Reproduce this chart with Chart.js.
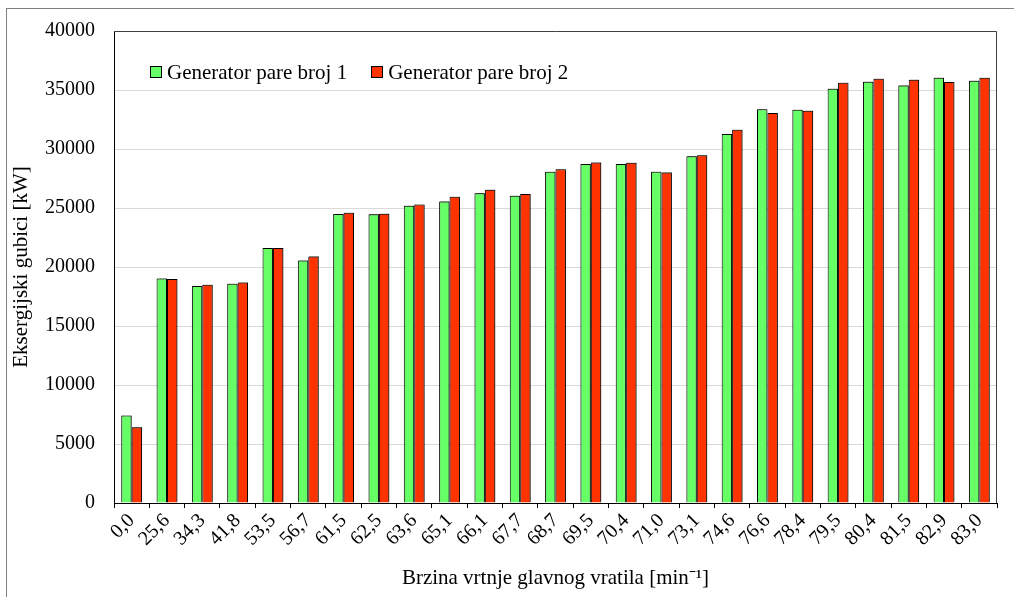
<!DOCTYPE html>
<html>
<head>
<meta charset="utf-8">
<script src="https://cdn.jsdelivr.net/npm/chart.js@4"></script>
<style>
  html, body { margin: 0; padding: 0; background: #fff; overflow: hidden; }
  #wrap { position: relative; width: 1014px; height: 597px; }
  #frame { position: absolute; left: 6px; top: 8px; width: 1100px; height: 700px; border-left: 1px solid #808080; border-top: 1px solid #808080; pointer-events: none; }
  canvas { position: absolute; left: 0; top: 0; }
  #legend { position: absolute; left: 150px; top: 59px; font-family: "Liberation Serif", "Times New Roman", serif; font-size: 21px; color: #000; white-space: nowrap; }
  #legend span.item { display: inline-flex; align-items: center; margin-right: 24px; }
  #legend span.sw { display: inline-block; width: 10px; height: 10px; border: 1px solid #000; margin-right: 5px; }
</style>
</head>
<body>
<div id="wrap">
  <canvas id="c" width="1014" height="597"></canvas>
  <div id="frame"></div>
  <div id="legend"></div>
</div>
<script>
const categories = ['0,0','25,6','34,3','41,8','53,5','56,7','61,5','62,5','63,6','65,1','66,1','67,7','68,7','69,5','70,4','71,0','73,1','74,6','76,6','78,4','79,5','80,4','81,5','82,9','83,0'];
const seriesNames = ['Generator pare broj 1', 'Generator pare broj 2'];
const generator1 = [7410,19030,18390,18580,21620,20550,24490,24470,25200,25560,26240,26040,28070,28720,28720,28070,29390,31280,33360,33330,35110,35700,35390,36040,35790];
const generator2 = [6420,18980,18500,18690,21620,20890,24600,24520,25290,25950,26550,26180,28290,28860,28830,28010,29480,31630,33050,33250,35620,35950,35870,35670,36040];
const yTicks = [0,5000,10000,15000,20000,25000,30000,35000,40000];
const xTitle = 'Brzina vrtnje glavnog vratila [min\u207B\u00B9]';
const yTitle = 'Eksergijski gubici [kW]';
const colors = ['#66FF66', '#FF3300'];

const FONT = '"Liberation Serif", "Times New Roman", serif';

// HTML legend
const legend = document.getElementById('legend');
seriesNames.forEach((n, i) => {
  const it = document.createElement('span');
  it.className = 'item';
  const sw = document.createElement('span');
  sw.className = 'sw';
  sw.style.background = colors[i];
  it.appendChild(sw);
  it.appendChild(document.createTextNode(n));
  legend.appendChild(it);
});

const frameBorder = {
  id: 'frameBorder',
  afterDraw(chart) {
    const {ctx, chartArea: a} = chart;
    ctx.save();
    ctx.strokeStyle = '#404040';
    ctx.lineWidth = 1;
    ctx.beginPath();
    ctx.moveTo(a.left, a.top + 0.5);
    ctx.lineTo(a.right - 0.5, a.top + 0.5);
    ctx.lineTo(a.right - 0.5, a.bottom);
    ctx.stroke();
    ctx.restore();
  }
};

const barShadow = {
  id: 'barShadow',
  beforeDatasetsDraw(chart) {
    const ctx = chart.ctx;
    ctx.save();
    ctx.shadowColor = 'rgba(0,0,0,0.45)';
    ctx.shadowOffsetX = 1;
    ctx.shadowOffsetY = -1;
    ctx.shadowBlur = 1;
  },
  afterDatasetsDraw(chart) {
    chart.ctx.restore();
  }
};

new Chart(document.getElementById('c'), {
  type: 'bar',
  data: {
    labels: categories,
    datasets: [
      { label: seriesNames[0], data: generator1, backgroundColor: colors[0], borderColor: '#000', borderWidth: 1, borderSkipped: 'bottom' },
      { label: seriesNames[1], data: generator2, backgroundColor: colors[1], borderColor: '#000', borderWidth: 1, borderSkipped: 'bottom' }
    ]
  },
  options: {
    responsive: false,
    animation: false,
    devicePixelRatio: 1,
    layout: { padding: { top: 30, right: 17, bottom: 0, left: 0 } },
    plugins: { legend: { display: false }, tooltip: { enabled: false } },
    datasets: { bar: { categoryPercentage: 0.59, barPercentage: 1.0 } },
    scales: {
      x: {
        offset: true,
        grid: { display: true, drawOnChartArea: false, offset: true, tickLength: 5, tickColor: '#000', lineWidth: 1 },
        border: { display: true, color: '#000', width: 1 },
        ticks: { color: '#000', font: { family: FONT, size: 20 }, minRotation: 45, maxRotation: 45, autoSkip: false, padding: 1 },
        title: { display: true, text: xTitle, color: '#000', font: { family: FONT, size: 21 }, padding: { top: 0, bottom: 6 } },
        afterFit(scale) { scale.height = 94; }
      },
      y: {
        min: 0, max: 40000,
        afterBuildTicks(scale) { scale.ticks = yTicks.map(v => ({ value: v })); },
        grid: { color: '#d9d9d9', drawTicks: false, lineWidth: 1 },
        border: { display: true, color: '#000', width: 1 },
        ticks: { color: '#000', font: { family: FONT, size: 20 }, padding: 19, callback: (v) => String(v) },
        title: { display: true, text: yTitle, color: '#000', font: { family: FONT, size: 21 }, padding: { top: 9, bottom: 0 } },
        afterFit(scale) { scale.width = 114; }
      }
    }
  },
  plugins: [barShadow, frameBorder]
});
</script>
</body>
</html>
